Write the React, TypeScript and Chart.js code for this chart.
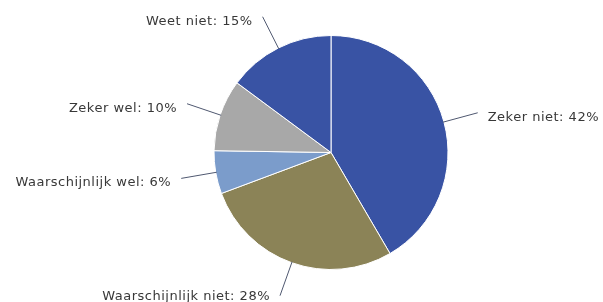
import React, { useEffect, useRef } from "react";
import { Chart, registerables } from "chart.js";

Chart.register(...registerables);

const categories = [
  "Zeker niet",
  "Waarschijnlijk niet",
  "Waarschijnlijk wel",
  "Zeker wel",
  "Weet niet",
];
const values = [42, 28, 6, 10, 15];
const colors = ["#3953A4", "#8B8357", "#7B9CCB", "#A8A8A8", "#3953A4"];

const labelPlugin = {
  id: "outerLabels",
  afterDraw(chart: any) {
    const ctx = chart.ctx;
    const meta = chart.getDatasetMeta(0);
    ctx.save();
    ctx.font = "13px 'DejaVu Sans'";
    (ctx as any).letterSpacing = "0.5px";
    ctx.textBaseline = "middle";
    meta.data.forEach((arc: any, i: number) => {
      const { x, y, startAngle, endAngle, outerRadius } = arc.getProps(
        ["x", "y", "startAngle", "endAngle", "outerRadius"],
        true
      );
      const mid = (startAngle + endAngle) / 2;
      const cos = Math.cos(mid);
      const sin = Math.sin(mid);
      const x1 = x + cos * (outerRadius - 1);
      const y1 = y + sin * (outerRadius - 1);
      const x2 = x + cos * (outerRadius + 35);
      const y2 = y + sin * (outerRadius + 35);
      ctx.strokeStyle = "#4F5870";
      ctx.lineWidth = 1;
      ctx.beginPath();
      ctx.moveTo(x1, y1);
      ctx.lineTo(x2, y2);
      ctx.stroke();
      const right = cos >= 0;
      ctx.fillStyle = "#383838";
      ctx.textAlign = right ? "left" : "right";
      const text = `${categories[i]}: ${values[i]}%`;
      ctx.fillText(text, x2 + (right ? 10 : -10), y2 + 5 - 4 * Math.max(0, sin));
    });
    ctx.restore();
  },
};

export default function App() {
  const ref = useRef<HTMLCanvasElement>(null);
  useEffect(() => {
    if (!ref.current) return;
    const chart = new Chart(ref.current, {
      type: "pie",
      data: {
        labels: categories,
        datasets: [
          {
            data: values,
            backgroundColor: colors,
            borderColor: "#ffffff",
            borderWidth: 1,
          },
        ],
      },
      options: {
        responsive: false,
        animation: false,
        layout: { padding: { left: 59, right: 0, top: 35, bottom: 32 } },
        plugins: {
          legend: { display: false },
          tooltip: { enabled: false },
        },
      },
      plugins: [labelPlugin],
    });
    return () => chart.destroy();
  }, []);
  return (
    <div style={{ position: "absolute", left: 0, top: 0, width: 603, height: 302, background: "#fff" }}>
      <canvas ref={ref} width={603} height={302} />
    </div>
  );
}
